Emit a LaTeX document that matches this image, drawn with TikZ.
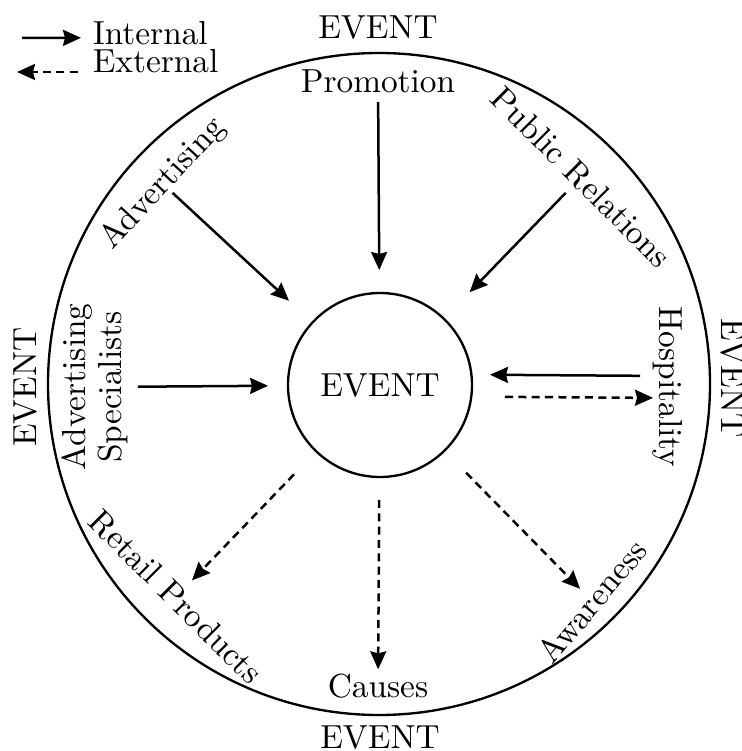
\documentclass[tikz,border=0pt]{standalone}
\usepackage{tikz}
\usetikzlibrary{arrows.meta,positioning}
\tikzset{
>={Stealth[length=5.4pt,width=4.8pt,inset=0.6pt]},
  ring/.style={
    circle,
    draw=black, line width=0.7pt,
    minimum size=198.6pt,
    inner sep=0pt},
  hub/.style={
    circle,
    draw=black, line width=0.7pt,
    minimum size=55.2pt,
    inner sep=0pt},
  spoke/.style={font=\normalsize, text centered},
  intern/.style={draw, line width=0.75pt, ->},
  extern/.style={draw, line width=0.75pt, ->, dash pattern=on 2.4pt off 1.6pt},
}

\begin{document}
\begin{tikzpicture}[x=0.3pt, y=-0.3pt]
		\useasboundingbox (0,0) rectangle (742,751);
		% circles
		\node[ring] (outer) at (379,384) {};
		\node[hub] (event) at (380,385) {EVENT};
		% EVENT around the ring
		\node[spoke] (event-top) at (378,27) {EVENT};
		\node[spoke] (event-bottom) at (380,737) {EVENT};
		\node[spoke, rotate=90] (event-left) at (25,387) {EVENT};
		\node[spoke, rotate=-90] (event-right) at (733,378) {EVENT};
		% activities
		\node[spoke] (promotion) at (378,81) {Promotion};
		\node[spoke, rotate=47] (advertising) at (163,184) {Advertising};
		\node[spoke, rotate=-45] (pub-rel) at (581,177) {Public Relations};
		\node[spoke, rotate=90, align=center] (adv-spec) at (95,387) {Advertising\\[-1.2pt]Specialists};
		\node[spoke, rotate=-90] (hospitality) at (668,387) {Hospitality};
		\node[spoke, rotate=-45] (retail) at (176,597) {Retail Products};
		\node[spoke] (causes) at (378,686) {Causes};
		\node[spoke, rotate=50] (awareness) at (592,601) {Awareness};
		% legend
		\node[anchor=base west] (internal) at (81,45) {Internal};
		\node[anchor=base west] (external) at (81,73) {External};
		\coordinate (leg-in) at (22,38);
		\coordinate (leg-ex) at (17,72);
		\draw[intern] (leg-in) -- (internal.mid west);
		\draw[extern, shorten <=1pt] ([yshift=0.3pt]external.base west) -- (leg-ex);
		% internal
		\draw[intern, shorten <=6.3pt, shorten >=34.5pt] (promotion.center) -- (event.center);
		\draw[intern, shorten <=3.9pt, shorten >=37.2pt] (advertising.center) -- (event.center);
		\draw[intern, shorten <=6.6pt, shorten >=38.7pt] (pub-rel.center) -- (event.center);
		\draw[intern, shorten <=12.9pt, shorten >=33.6pt] (adv-spec.center) -- (event.center);
		\draw[intern, shorten <=8.4pt, shorten >=33pt] ([yshift=3.3pt]hospitality.center) -- ([yshift=3.3pt]event.center);
		% external
		\draw[extern, shorten <=37.5pt, shorten >=4.5pt] ([yshift=-3.3pt]event.center) -- ([yshift=-3.3pt]hospitality.center);
		\draw[extern, shorten <=37.2pt, shorten >=6.9pt] (event.center) -- (retail.center);
		\draw[extern, shorten <=34.5pt, shorten >=5pt] (event.center) -- (causes.center);
		\draw[extern, shorten <=36.9pt, shorten >=5.1pt] (event.center) -- (awareness.center);
	\end{tikzpicture}
\end{document}
